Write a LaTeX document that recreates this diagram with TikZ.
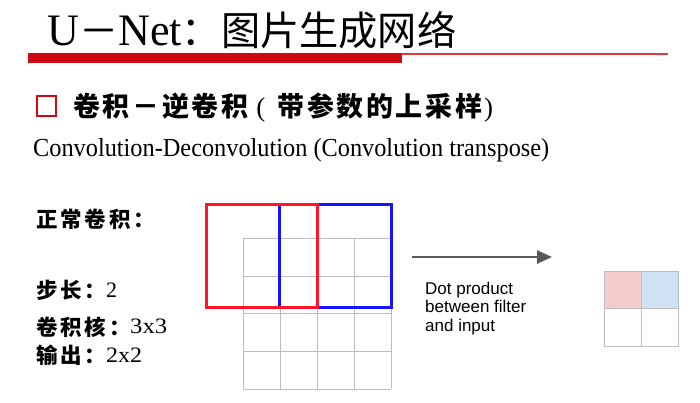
\documentclass[tikz,border=0pt]{standalone}
\usepackage{fontspec}
\usepackage{graphicx}
\usetikzlibrary{arrows.meta}
\setmainfont{Liberation Serif}
\newfontfamily\cjk{Noto Sans CJK SC}
\newfontfamily\cjkhead[LetterSpace=10]{Noto Sans CJK SC}
\newfontfamily\cjklab[LetterSpace=13]{Noto Sans CJK SC}
\newfontfamily\sanstext{Liberation Sans}
\definecolor{titlered}{HTML}{CC0A14}
\definecolor{thinred}{HTML}{E23A40}
\definecolor{filtred}{HTML}{FF1428}
\definecolor{filtblue}{HTML}{1414FF}
\definecolor{gridgray}{HTML}{BDBDBD}
\definecolor{arrowgray}{HTML}{595959}
\definecolor{cellpink}{HTML}{F4CCCC}
\definecolor{cellblue}{HTML}{CFE2F3}
\tikzset{
  lab/.style={anchor=west, inner sep=0pt, font=\cjklab\bfseries\fontsize{21.5}{24}\selectfont},
  num/.style={anchor=base west, inner sep=0pt, font=\fontsize{22}{24}\selectfont},
  gridline/.style={gridgray, line width=1pt},
}
\begin{document}
\begin{tikzpicture}[x=1pt,y=-1pt]
\useasboundingbox (0,0) rectangle (700,402);
% title
\node[anchor=base west, inner sep=0pt] (title) at (47,45)
  {\resizebox{409pt}{\height}{\fontsize{45}{48}\selectfont U{\cjk\fontsize{40}{44}\selectfont －}Net{\cjk\fontsize{40}{44}\selectfont ：图片生成网络}}};
\fill[titlered] (28,53) rectangle (402,63);
\fill[thinred] (402,52.8) rectangle (668,54.6);
% heading
\draw[titlered, line width=2pt] (37,96) rectangle (56,116);
\node[anchor=west, inner sep=0pt] (head) at (73,108)
  {\resizebox{420pt}{\height}{\cjkhead\bfseries\fontsize{27}{30}\selectfont 卷积－逆卷积\hspace{8pt}{\rmfamily\mdseries(}\hspace{12pt}带参数的上采样{\rmfamily\mdseries\hspace{2pt})}}};
\node[anchor=base west, inner sep=0pt] (sub) at (33,156)
  {\resizebox{516pt}{\height}{\fontsize{26}{30}\selectfont Convolution-Deconvolution (Convolution transpose)}};
% left labels
\node[lab] (l0) at (36,219) {正常卷积：};
\node[lab] (l1) at (36,290) {步长：};
\node[lab] (l2) at (36,327) {卷积核：};
\node[lab] (l3) at (36,355) {输出：};
\node[num] (n1) at (106,297) {2};
\node[num] (n2) at (130,333) {\resizebox{37pt}{\height}{3x3}};
\node[num] (n3) at (106,362) {\resizebox{36pt}{\height}{2x2}};
% input grid
\foreach \x in {243,280,317,354,391} \draw[gridline] (\x,238) -- (\x,389);
\foreach \y in {238,276,313,351,389} \draw[gridline] (243,\y) -- (391,\y);
% filters
\draw[filtblue, line width=3pt] (279,204) rectangle (391,307);
\draw[filtred, line width=3pt] (206,204) rectangle (317,307);
% arrow
\coordinate (a1) at (412,257);
\coordinate (a2) at (552,257);
\draw[arrowgray, line width=2.5pt, -{Triangle[length=15pt,width=13pt]}] (a1) -- (a2);
\node[anchor=north west, align=left, inner sep=0pt, font=\sanstext\fontsize{17}{18.5}\selectfont] (dot) at (425,281.5) {Dot product\\between filter\\and input};
% output
\fill[cellpink] (604,271) rectangle (641,308);
\fill[cellblue] (641,271) rectangle (678,308);
\draw[gridline] (604,271) rectangle (678,346);
\draw[gridline] (641,271) -- (641,346);
\draw[gridline] (604,308) -- (678,308);
\end{tikzpicture}
\end{document}
